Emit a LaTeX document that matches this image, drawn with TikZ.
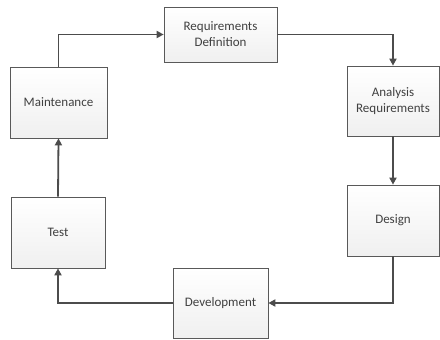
\documentclass[tikz,border=0pt]{standalone}
\usepackage{fontspec}
\setmainfont{Carlito}
\usetikzlibrary{arrows.meta}
\begin{document}
\begin{tikzpicture}[x=1pt, y=-1pt,
    phase/.style={draw=black!65, line width=0.7pt, top color=white, bottom color=black!6,
        minimum width=95pt, minimum height=71pt, inner sep=2pt, align=center,
        text=black!75, font=\fontsize{13}{16}\selectfont},
    flow/.style={draw=black!70, line width=1.8pt, -{Triangle[length=7pt,width=7pt]}}]

        \useasboundingbox (0, 0) rectangle (440, 340);

        %%draw the phases
        \node[phase, minimum width=113pt, minimum height=55pt] (reqdef) at (220.5, 34.5){Requirements\\Definition};
        \node[phase, minimum width=92pt, minimum height=70pt] (analysis) at (393, 101){Analysis\\Requirements};
        \node[phase, minimum width=92pt] (design) at (393, 220.5){Design};
        \node[phase, minimum height=70pt] (devel) at (220.5, 303){Development};
        \node[phase, minimum width=94pt] (test) at (58, 232.5){Test};
        \node[phase, minimum width=97pt] (maint) at (58.5, 102.5){Maintenance};

        %%draw the cycle
        \draw[flow] (maint.north) |- (reqdef.west);
        \draw[flow] (reqdef.east) -| (analysis.north);
        \draw[flow] (analysis.south) -- (design.north);
        \draw[flow] (design.south) |- (devel.east);
        \draw[flow] (devel.west) -| (test.south);
        \draw[flow] (test.north) -- (maint.south);
    \end{tikzpicture}
\end{document}
